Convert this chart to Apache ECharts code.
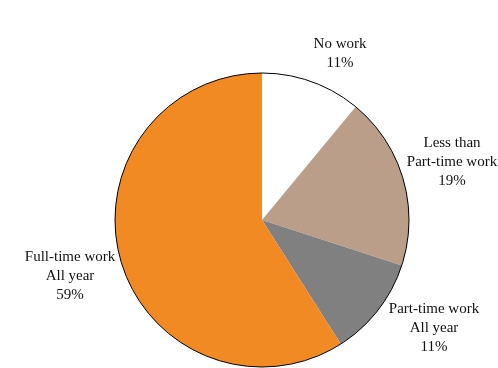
<!DOCTYPE html>
<html><head><meta charset="utf-8">
<script src="https://cdn.jsdelivr.net/npm/echarts@6/dist/echarts.min.js"></script>
<style>html,body{margin:0;padding:0;background:#fff}#c{width:498px;height:368px}</style>
</head><body><div id="c"></div>
<script>
const categories = ["No work", "Less than\nPart-time work", "Part-time work\nAll year", "Full-time work\nAll year"];
const values = [11, 19, 11, 59];
const colors = ["#ffffff", "#bb9e8a", "#808080", "#f28a24"];
const labelPos = [[340, 54], [452, 162], [434, 328], [70, 276]];

const chart = echarts.init(document.getElementById('c'), null, {renderer: 'canvas'});
chart.setOption({
  animation: false,
  series: [{
    type: 'pie',
    center: [262, 220],
    radius: 147,
    startAngle: 90,
    clockwise: true,
    silent: true,
    data: categories.map((n, i) => ({name: n, value: values[i], itemStyle: {color: colors[i]}})),
    label: {
      show: true,
      formatter: p => p.name + '\n' + p.value + '%',
      fontFamily: '"Liberation Serif", "Times New Roman", serif',
      fontSize: 15,
      lineHeight: 19,
      color: '#111',
      align: 'center',
      overflow: 'none'
    },
    labelLine: {show: false},
    labelLayout: p => ({x: labelPos[p.dataIndex][0], y: labelPos[p.dataIndex][1], align: 'center', verticalAlign: 'middle', width: 200})
  }, {
    type: 'pie',
    center: [262, 220],
    radius: 147,
    silent: true,
    label: {show: false},
    labelLine: {show: false},
    data: [{value: 1, itemStyle: {color: 'rgba(0,0,0,0)', borderColor: '#000', borderWidth: 1}}]
  }]
});
</script></body></html>
